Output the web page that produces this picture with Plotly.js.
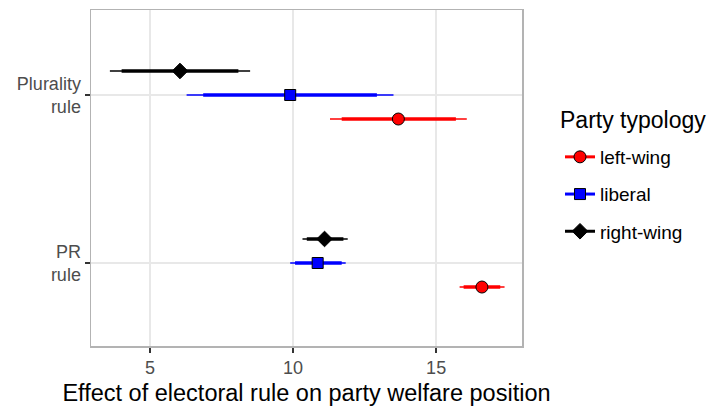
<!DOCTYPE html>
<html><head><meta charset="utf-8">
<script src="https://cdn.plot.ly/plotly-3.0.1.min.js"></script>
<style>body{margin:0;padding:0;background:#fff}#chart{width:708px;height:406px}</style>
</head><body><div id="chart"></div>
<script>
// Categories (electoral rule) and their y positions
const rules = ["Plurality rule", "PR rule"];
const ruleTickText = ["Plurality<br>rule", "PR<br>rule"];
const ruleY = [2, 1];
const series = ["left-wing", "liberal", "right-wing"];
const legendTitle = "Party typology";
const seriesColors = ["#ff0000", "#0000ff", "#000000"];
const seriesSymbols = ["circle", "square", "diamond"];
const seriesSizes = [12, 11, 12];
const dodge = [-0.143, 0, 0.143];

// Estimates per series: [Plurality, PR]
const leftEst = [13.68, 16.60];
const leftLo90 = [11.70, 15.96], leftHi90 = [15.69, 17.24];
const leftLo95 = [11.29, 15.82], leftHi95 = [16.07, 17.39];

const libEst = [9.90, 10.86];
const libLo90 = [6.86, 10.07], libHi90 = [12.93, 11.70];
const libLo95 = [6.28, 9.90], libHi95 = [13.51, 11.84];

const rightEst = [6.05, 11.10];
const rightLo90 = [4.01, 10.48], rightHi90 = [8.09, 11.76];
const rightLo95 = [3.60, 10.33], rightHi95 = [8.50, 11.91];

const est = [leftEst, libEst, rightEst];
const lo90 = [leftLo90, libLo90, rightLo90], hi90 = [leftHi90, libHi90, rightHi90];
const lo95 = [leftLo95, libLo95, rightLo95], hi95 = [leftHi95, libHi95, rightHi95];

function segs(lo, hi, yy) {
  const x = [], y = [];
  for (let i = 0; i < lo.length; i++) {
    x.push(lo[i], hi[i], null);
    y.push(yy[i], yy[i], null);
  }
  return {x, y};
}

const traces = [];
// CI lines
for (let s = 0; s < series.length; s++) {
  const yy = ruleY.map(v => v + dodge[s]);
  const o = segs(lo95[s], hi95[s], yy);
  traces.push({x: o.x, y: o.y, mode: 'lines', type: 'scatter', showlegend: false, hoverinfo: 'skip',
    legendgroup: series[s], line: {color: seriesColors[s], width: 1.6}});
  const i = segs(lo90[s], hi90[s], yy);
  traces.push({x: i.x, y: i.y, mode: 'lines', type: 'scatter', showlegend: false, hoverinfo: 'skip',
    legendgroup: series[s], line: {color: seriesColors[s], width: 3.6}});
}
// Points (with legend entries)
for (let s = 0; s < series.length; s++) {
  const yy = ruleY.map(v => v + dodge[s]);
  const x = [], y = [];
  for (let k = 0; k < yy.length; k++) { x.push(est[s][k], null); y.push(yy[k], null); }
  traces.push({x, y, name: series[s], legendgroup: series[s], type: 'scatter', mode: 'lines+markers', connectgaps: false,
    line: {color: seriesColors[s], width: 3},
    marker: {color: seriesColors[s], symbol: seriesSymbols[s], size: seriesSizes[s],
      line: {color: '#000000', width: 1}}});
}

const font = "Liberation Sans, Arial, Helvetica, sans-serif";
const layout = {
  width: 708, height: 406,
  margin: {l: 91, r: 186, t: 10, b: 60},
  paper_bgcolor: '#ffffff', plot_bgcolor: '#ffffff',
  font: {family: font, color: '#000'},
  xaxis: {
    range: [2.94, 18.0], tickvals: [5, 10, 15], ticktext: ['5', '10', '15'],
    showgrid: true, gridcolor: '#e8e8e8', gridwidth: 1.5, zeroline: false,
    showline: true, mirror: true, linecolor: '#b3b3b3', linewidth: 1.5,
    ticks: 'outside', ticklen: 5, tickcolor: '#333333', tickwidth: 1.5,
    tickfont: {family: font, size: 18, color: '#4d4d4d'},
    title: {text: 'Effect of electoral rule on party welfare position', font: {family: font, size: 23.5, color: '#000'}, standoff: 7}
  },
  yaxis: {
    range: [0.506, 2.506], tickvals: ruleY, ticktext: ruleTickText,
    showgrid: true, gridcolor: '#e8e8e8', gridwidth: 1.5, zeroline: false,
    showline: true, mirror: true, linecolor: '#b3b3b3', linewidth: 1.5,
    ticks: 'outside', ticklen: 5, tickcolor: '#333333', tickwidth: 1.5,
    tickfont: {family: font, size: 18, color: '#4d4d4d'}
  },
  legend: {
    xref: 'container', yref: 'container',
    x: 560 / 708, xanchor: 'left', y: 1 - 138 / 406, yanchor: 'top',
    font: {family: font, size: 19, color: '#000'},
    tracegroupgap: 9.5, itemsizing: 'trace', bgcolor: 'rgba(0,0,0,0)'
  },
  annotations: [{
    text: legendTitle, xref: 'paper', yref: 'paper',
    x: (558 - 91) / 431, xanchor: 'left', y: (346 - 120) / 336, yanchor: 'middle',
    showarrow: false, font: {family: font, size: 23, color: '#000'}
  }],
  showlegend: true
};
Plotly.newPlot('chart', traces, layout, {staticPlot: true, displayModeBar: false});
</script></body></html>
